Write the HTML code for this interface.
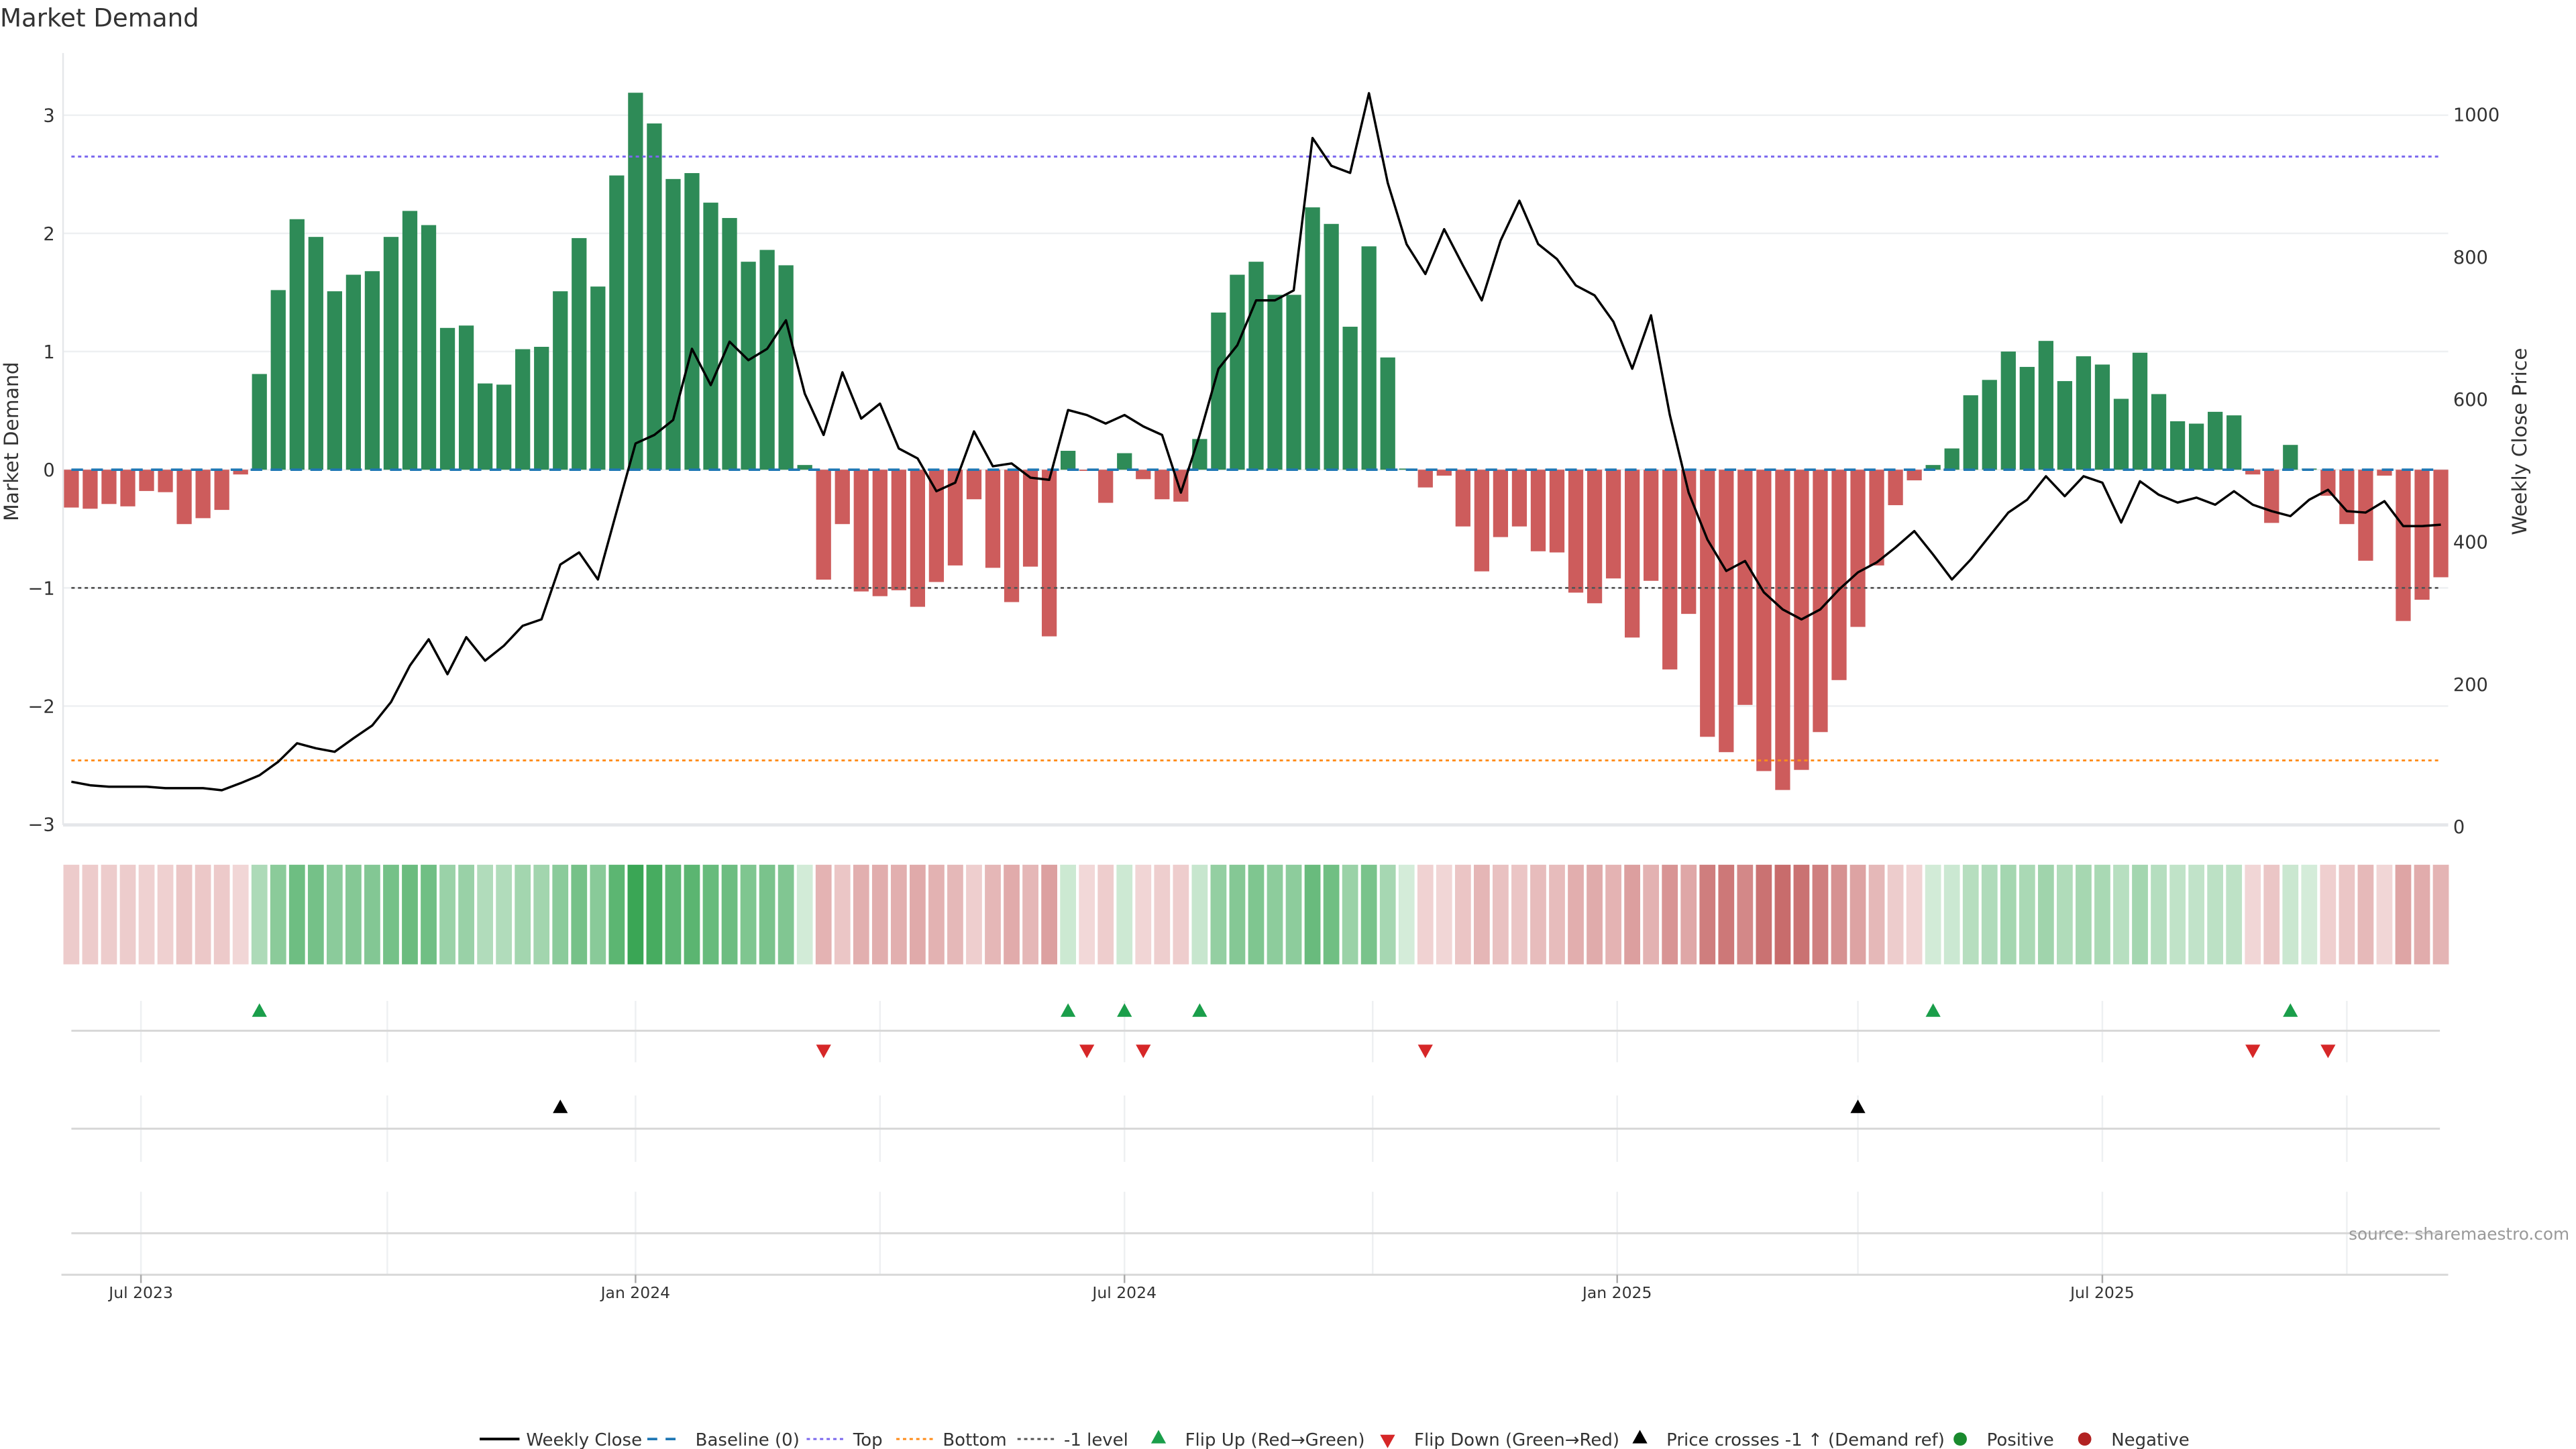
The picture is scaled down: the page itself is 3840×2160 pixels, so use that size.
<!DOCTYPE html>
<html><head><meta charset="utf-8"><title>Market Demand</title>
<style>html,body{margin:0;padding:0;background:#fff;}svg{display:block;font-family:"DejaVu Sans","Liberation Sans",sans-serif;}</style>
</head><body>
<svg id="chart" width="3840" height="2160" viewBox="0 0 1552 873" xmlns="http://www.w3.org/2000/svg">
<text x="0" y="16" font-size="15" fill="#333">Market Demand</text>
<g id="grid"></g><g id="heat"></g><g id="bars"></g><g id="lines"></g><g id="marks"></g><g id="axes"></g><g id="legend"></g>
<text x="1548" y="747" font-size="10" fill="#999" text-anchor="end">source: sharemaestro.com</text>
</svg>
<script>
const demand=[-0.32,-0.33,-0.29,-0.31,-0.18,-0.19,-0.46,-0.41,-0.34,-0.04,0.81,1.52,2.12,1.97,1.51,1.65,1.68,1.97,2.19,2.07,1.20,1.22,0.73,0.72,1.02,1.04,1.51,1.96,1.55,2.49,3.19,2.93,2.46,2.51,2.26,2.13,1.76,1.86,1.73,0.04,-0.93,-0.46,-1.03,-1.07,-1.02,-1.16,-0.95,-0.81,-0.25,-0.83,-1.12,-0.82,-1.41,0.16,-0.01,-0.28,0.14,-0.08,-0.25,-0.27,0.26,1.33,1.65,1.76,1.48,1.48,2.22,2.08,1.21,1.89,0.95,0.01,-0.15,-0.05,-0.48,-0.86,-0.57,-0.48,-0.69,-0.70,-1.04,-1.13,-0.92,-1.42,-0.94,-1.69,-1.22,-2.26,-2.39,-1.99,-2.55,-2.71,-2.54,-2.22,-1.78,-1.33,-0.81,-0.30,-0.09,0.04,0.18,0.63,0.76,1.00,0.87,1.09,0.75,0.96,0.89,0.60,0.99,0.64,0.41,0.39,0.49,0.46,-0.04,-0.45,0.21,0.01,-0.22,-0.46,-0.77,-0.05,-1.28,-1.10,-0.91];
const price=[63,58,56,56,56,54,54,54,51,61,72,91,117,110,105,124,142,175,226,263,214,266,233,254,282,291,368,385,347,443,538,550,571,671,620,681,655,671,711,608,550,638,573,594,531,517,471,483,555,506,510,490,487,585,578,566,578,562,550,469,550,643,676,739,739,753,967,928,918,1030,904,818,776,839,788,739,823,879,818,797,760,746,709,643,718,578,469,403,359,373,329,305,291,305,333,357,371,392,415,382,347,375,408,441,459,492,464,492,483,427,485,466,455,462,452,471,452,443,436,459,473,443,441,457,422,422,424];
const leftTicks=[3,2,1,0,-1,-2,-3];
const rightTicks=[0,200,400,600,800,1000];
const dateTicks=["Jul 2023","Jan 2024","Jul 2024","Jan 2025","Jul 2025"];
const dateTickIdx=[3.7,30,56,82.2,108];
const quarterIdx=[3.7,16.8,30,43,56,69.2,82.2,95,108,121];
const topLevel=2.65, bottomLevel=-2.46, minusOne=-1, priceRefLevel=336;

const NS="http://www.w3.org/2000/svg";
const L=38,R=1475,ZERO=283,UNIT=71.2;
const xs=i=>43+11.33*i;
const yd=v=>ZERO-v*UNIT;
const yp=p=>498-0.429*p;
function mk(tag,attrs,parent,txt){const e=document.createElementNS(NS,tag);for(const k in attrs)e.setAttribute(k,attrs[k]);if(txt!==undefined)e.textContent=txt;document.getElementById(parent).appendChild(e);return e;}

// grid
leftTicks.forEach(t=>{const g=mk('line',{x1:L,x2:R,y1:yd(t),y2:yd(t),stroke:'#eef0f2','stroke-width':1},'grid');


const tx=mk('text',{x:33,y:yd(t)+4,'font-size':11,fill:'#333','text-anchor':'end'},'axes',String(t).replace('-','\u2212'));

});
rightTicks.forEach(t=>{const tx=mk('text',{x:1478,y:yp(t)+4,'font-size':11,fill:'#333'},'axes',String(t));

});
mk('line',{x1:L,x2:L,y1:32,y2:497,stroke:'#e5e7ea','stroke-width':1},'axes');
mk('line',{x1:L,x2:R,y1:497,y2:497,stroke:'#e5e7ea','stroke-width':2},'axes');
const yl=mk('text',{transform:'translate(11,266) rotate(-90)','font-size':12,fill:'#333','text-anchor':'middle'},'axes','Market Demand');


const yr=mk('text',{transform:'translate(1522,266) rotate(-90)','font-size':12,fill:'#333','text-anchor':'middle'},'axes','Weekly Close Price');



// lower panels
[[603,640],[660,700],[718,768]].forEach(r=>quarterIdx.forEach(q=>mk('line',{x1:xs(q),x2:xs(q),y1:r[0],y2:r[1],stroke:'#eef0f2'},'grid')));
[621,680,743].forEach(y=>mk('line',{x1:43,x2:1470,y1:y,y2:y,stroke:'#d8d8d8','stroke-width':1.2},'grid'));
mk('line',{x1:37,x2:1475,y1:768,y2:768,stroke:'#d8d8d8','stroke-width':1.2},'axes');
dateTicks.forEach((d,k)=>{const x=xs(dateTickIdx[k]);mk('line',{x1:x,x2:x,y1:768,y2:773,stroke:'#aaa'},'axes');
const t=mk('text',{x:x,y:782,'font-size':9.5,fill:'#333','text-anchor':'middle'},'axes',d);

});

// heat + bars
function mix(a,b,t){return 'rgb('+a.map((c,i)=>Math.round(c+(b[i]-c)*t)).join(',')+')';}
demand.forEach((v,i)=>{
 const c=v>=0?mix([212,236,217],[58,166,85],Math.min(1,v/3.2)):mix([242,216,216],[200,108,108],Math.min(1,-v/2.7));
 const h=mk('rect',{x:xs(i)-4.8,y:521,width:9.6,height:60,fill:c},'heat');
 
 
 const y0=Math.min(yd(v),ZERO),hh=Math.max(0.6,Math.abs(yd(v)-ZERO));
 const b=mk('rect',{x:xs(i)-4.5,y:y0,width:9,height:hh,fill:v>=0?'#2e8b57':'#cd5c5c'},'bars');
 
 
});
// ref lines
[[0,'#1f77b4','7 5',1.5,'baseline-line'],[topLevel,'#7b68ee','2 2',1.2,'top-line'],[bottomLevel,'#ff8c1a','2 2',1.2,'bottom-line'],[minusOne,'#555','2 2',1.1,'minus-one-line']].forEach(a=>{
 const l=mk('line',{x1:43,x2:1470,y1:yd(a[0]),y2:yd(a[0]),stroke:a[1],'stroke-dasharray':a[2],'stroke-width':a[3]},'lines');
 
 
});
const pl=mk('polyline',{points:price.map((p,i)=>xs(i)+','+yp(p)).join(' '),fill:'none',stroke:'#000','stroke-width':1.4,'stroke-linejoin':'round'},'lines');



// markers
function tri(x,y,up,col){const s=4.5;const p=up?`${x},${y-s} ${x-s},${y+s*0.8} ${x+s},${y+s*0.8}`:`${x},${y+s} ${x-s},${y-s*0.8} ${x+s},${y-s*0.8}`;return mk('polygon',{points:p,fill:col},'marks');}
for(let i=1;i<demand.length;i++){
 if(demand[i-1]<0&&demand[i]>=0){const m=tri(xs(i),609,true,'#1a9e4a');}
 if(demand[i-1]>=0&&demand[i]<0){const m=tri(xs(i),633,false,'#d62728');}
 if(price[i-1]<priceRefLevel&&price[i]>=priceRefLevel){const m=tri(xs(i),667,true,'#000');}
}

// legend
const LY=867;
function lt(x,t){const e=mk('text',{x:x,y:LY+4,'font-size':10.5,fill:'#333'},'legend',t);}
mk('line',{x1:289,x2:313,y1:LY,y2:LY,stroke:'#000','stroke-width':1.6},'legend');lt(317,'Weekly Close');
mk('line',{x1:390,x2:412,y1:LY,y2:LY,stroke:'#1f77b4','stroke-width':1.5,'stroke-dasharray':'6 5'},'legend');lt(419,'Baseline (0)');
mk('line',{x1:486,x2:508,y1:LY,y2:LY,stroke:'#7b68ee','stroke-width':1.2,'stroke-dasharray':'2 2'},'legend');lt(514,'Top');
mk('line',{x1:540,x2:562,y1:LY,y2:LY,stroke:'#ff8c1a','stroke-width':1.2,'stroke-dasharray':'2 2'},'legend');lt(568,'Bottom');
mk('line',{x1:613,x2:635,y1:LY,y2:LY,stroke:'#555','stroke-width':1.2,'stroke-dasharray':'2 2'},'legend');lt(641,'-1 level');
tri(698,LY-1,true,'#1a9e4a');lt(714,'Flip Up (Red\u2192Green)');
tri(836,LY+1,false,'#d62728');lt(852,'Flip Down (Green\u2192Red)');
tri(988,LY-1,true,'#000');lt(1004,'Price crosses -1 \u2191 (Demand ref)');
mk('circle',{cx:1181,cy:LY,r:4,fill:'#1a8a2e'},'legend');lt(1197,'Positive');
mk('circle',{cx:1256,cy:LY,r:4,fill:'#b22222'},'legend');lt(1272,'Negative');
</script>
</body></html>
